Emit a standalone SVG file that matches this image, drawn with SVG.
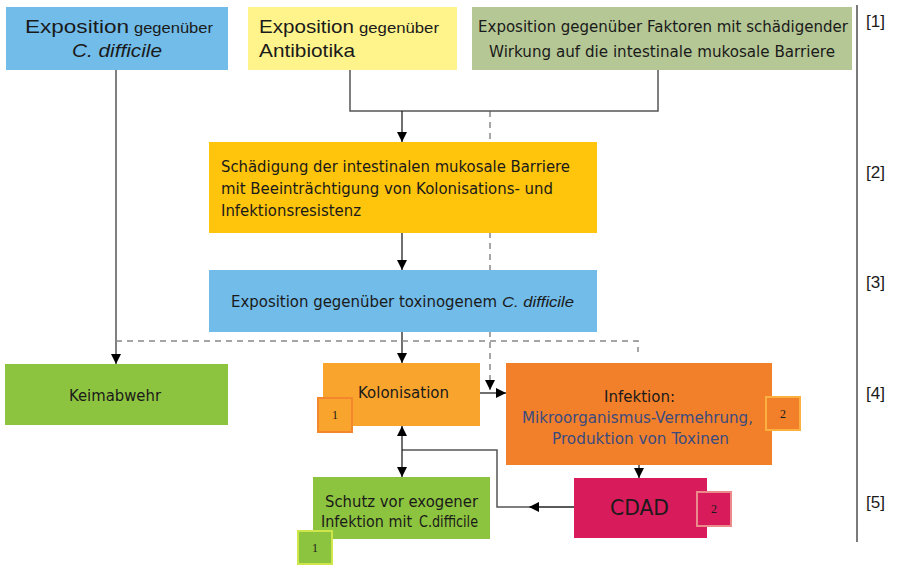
<svg xmlns="http://www.w3.org/2000/svg" width="901" height="565" viewBox="0 0 901 565">
<defs>
<marker id="ah" viewBox="0 0 10 10" refX="10" refY="5" markerWidth="10" markerHeight="10" markerUnits="userSpaceOnUse" orient="auto-start-reverse"><path d="M0,0 L10,5 L0,10 z" fill="#000"/></marker>
</defs>
<style>
.t{font-family:"DejaVu Sans","Liberation Sans",sans-serif;font-size:15px;fill:#1a1a1a}
.a{font-family:"Liberation Sans",Arial,sans-serif;fill:#1a1a1a}
.i{font-family:"Liberation Sans",Arial,sans-serif;font-style:italic;fill:#1a1a1a}
.ln{stroke:#555;stroke-width:1.5;fill:none}
.ar{stroke:#222;stroke-width:1.3;fill:none;marker-end:url(#ah)}
.ds{stroke:#888;stroke-width:1.5;stroke-dasharray:6 5;fill:none}
.bd{font-family:"Liberation Serif",serif;font-size:12px;fill:#1a1a1a;text-anchor:middle}
.badge{stroke-width:2}
</style>
<g id="connectors">
<path class="ds" d="M490,111 V390" marker-end="url(#ah)"/>
<path d="M116,70 V364" stroke="#808080" stroke-width="2" fill="none" marker-end="url(#ah)"/>
<path class="ln" d="M350,70 V111 H658 V70"/>
<path class="ar" d="M402,111 V142"/>
<path class="ar" d="M402,233 V270"/>
<path class="ar" d="M402,332 V363"/>
<path class="ds" d="M116,341 H638 V352"/>
<path class="ar" d="M480,393 H506"/>
<path class="ar" d="M639,465 V478"/>
<path class="ar" d="M574,507 H529"/>
<path class="ln" d="M530,507 H497 V450 H402"/>
<path class="ar" d="M402,426 V477" marker-start="url(#ah)"/>
</g>
<g id="n1">
<rect x="6" y="7" width="222" height="63" fill="#71BCE9"/>
<text class="a" x="25" y="33" font-size="19" textLength="104" lengthAdjust="spacingAndGlyphs">Exposition</text>
<text class="a" x="134" y="33" font-size="15" textLength="79" lengthAdjust="spacingAndGlyphs">gegenüber</text>
<text class="i" x="72" y="57" font-size="19" textLength="90" lengthAdjust="spacingAndGlyphs">C. difficile</text>
</g>
<g id="n2">
<rect x="248" y="7" width="209" height="63" fill="#FFF48C"/>
<text class="a" x="259" y="33" font-size="19" textLength="95" lengthAdjust="spacingAndGlyphs">Exposition</text>
<text class="a" x="359" y="33" font-size="15" textLength="80" lengthAdjust="spacingAndGlyphs">gegenüber</text>
<text class="a" x="259" y="57" font-size="19" textLength="96" lengthAdjust="spacingAndGlyphs">Antibiotika</text>
</g>
<g id="n3">
<rect x="472" y="7" width="380" height="63" fill="#B5C795"/>
<text class="t" x="478" y="32" textLength="370" lengthAdjust="spacingAndGlyphs">Exposition gegenüber Faktoren mit schädigender</text>
<text class="t" x="489" y="57" textLength="346" lengthAdjust="spacingAndGlyphs">Wirkung auf die intestinale mukosale Barriere</text>
</g>
<g id="n4">
<rect x="209" y="142" width="388" height="91" fill="#FFC40C"/>
<text class="t" x="221" y="172" textLength="349" lengthAdjust="spacingAndGlyphs">Schädigung der intestinalen mukosale Barriere</text>
<text class="t" x="221" y="194" textLength="332" lengthAdjust="spacingAndGlyphs">mit Beeinträchtigung von Kolonisations- und</text>
<text class="t" x="221" y="216" textLength="140" lengthAdjust="spacingAndGlyphs">Infektionsresistenz</text>
</g>
<g id="n5">
<rect x="209" y="270" width="388" height="62" fill="#71BCE9"/>
<text class="t" x="231" y="307" textLength="266" lengthAdjust="spacingAndGlyphs">Exposition gegenüber toxinogenem</text>
<text class="i" x="502" y="307" font-size="15" textLength="72" lengthAdjust="spacingAndGlyphs">C. difficile</text>
</g>
<g id="n6">
<rect x="5" y="364" width="223" height="61" fill="#8DC43F"/>
<text class="t" x="69" y="401" textLength="92" lengthAdjust="spacingAndGlyphs">Keimabwehr</text>
</g>
<g id="n7">
<rect x="323" y="363" width="157" height="63" fill="#F9A52D"/>
<text class="t" x="358" y="398" textLength="91" lengthAdjust="spacingAndGlyphs">Kolonisation</text>
<rect class="badge" x="318" y="398" width="34" height="34" fill="#F9A52D" stroke="#F2872E"/>
<text class="bd" x="335" y="419">1</text>
</g>
<g id="n8">
<rect x="506" y="363" width="266" height="102" fill="#F2802B"/>
<text class="t" x="604" y="402" textLength="71" lengthAdjust="spacingAndGlyphs">Infektion:</text>
<text class="t" x="522" y="423" textLength="231" lengthAdjust="spacingAndGlyphs" style="fill:#3B4B7E">Mikroorganismus-Vermehrung,</text>
<text class="t" x="552" y="444" textLength="177" lengthAdjust="spacingAndGlyphs" style="fill:#3B4B7E">Produktion von Toxinen</text>
<rect class="badge" x="766" y="397" width="34" height="33" fill="#F2802B" stroke="#FBB040"/>
<text class="bd" x="783" y="418">2</text>
</g>
<g id="n9">
<rect x="574" y="478" width="133" height="60" fill="#D81B5B"/>
<text class="t" x="610" y="515" style="font-size:21px" textLength="59" lengthAdjust="spacingAndGlyphs">CDAD</text>
<rect class="badge" x="697" y="492" width="34" height="34" fill="#D81B5B" stroke="#EB8A8A"/>
<text class="bd" x="714" y="513">2</text>
</g>
<g id="n10">
<rect x="313" y="477" width="177" height="62" fill="#8DC43F"/>
<text class="t" x="325" y="507" textLength="153" lengthAdjust="spacingAndGlyphs">Schutz vor exogener</text>
<text class="t" x="321" y="527" textLength="91" lengthAdjust="spacingAndGlyphs">Infektion mit</text>
<text class="t" x="419" y="527" textLength="59" lengthAdjust="spacingAndGlyphs">C.difficile</text>
<rect class="badge" x="298" y="531" width="34" height="33" fill="#8DC43F" stroke="#CFE64B"/>
<text class="bd" x="315" y="552">1</text>
</g>
<g id="levels">
<line x1="857" y1="5" x2="857" y2="542" stroke="#222" stroke-width="1.2"/>
<text class="a" x="866" y="27" font-size="17">[1]</text>
<text class="a" x="866" y="178" font-size="17">[2]</text>
<text class="a" x="866" y="288" font-size="17">[3]</text>
<text class="a" x="866" y="399" font-size="17">[4]</text>
<text class="a" x="866" y="508" font-size="17">[5]</text>
</g>
</svg>
